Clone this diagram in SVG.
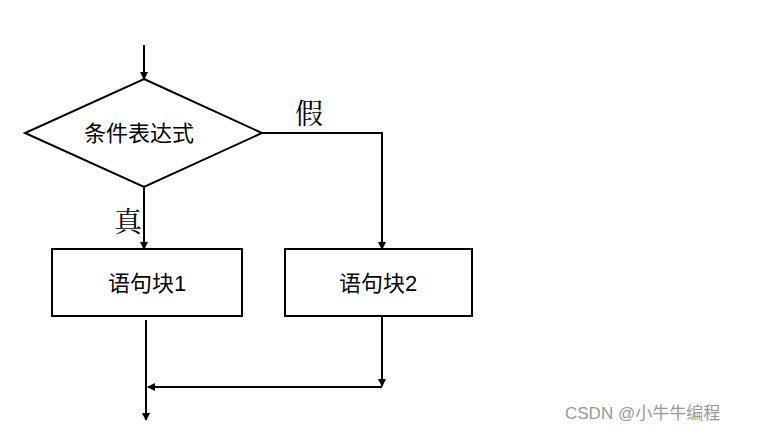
<svg xmlns="http://www.w3.org/2000/svg" width="758" height="434" viewBox="0 0 758 434">
<style>
.s{fill:#fff;stroke:#000;stroke-width:2}
.l{fill:none;stroke:#000;stroke-width:2}
.t{font-family:"Liberation Sans","Noto Sans CJK SC",sans-serif;font-size:22px;fill:#000}
.b{font-family:"Noto Serif CJK SC","Noto Sans CJK SC",serif;font-size:28px;fill:#000}
</style>
<defs><marker id="a" markerWidth="8" markerHeight="8" refX="7" refY="4" orient="auto" markerUnits="userSpaceOnUse"><path d="M0,0L8,4L0,8z" fill="#000"/></marker></defs>
<rect width="758" height="434" fill="#fff"/>
<g id="connectors">
<path class="l" d="M144,45V79" marker-end="url(#a)"/>
<path class="l" d="M144,187V249" marker-end="url(#a)"/>
<path class="l" d="M262,133H382V249" marker-end="url(#a)"/>
<path class="l" d="M382,316V386" marker-end="url(#a)"/>
<path class="l" d="M382,387H148" marker-end="url(#a)"/>
<path class="l" d="M146,320V420" marker-end="url(#a)"/>
</g>
<g id="cond"><polygon class="s" points="144,79 262,133 144,187 25,133"/><text class="t" x="139" y="141" text-anchor="middle">条件表达式</text></g>
<g id="block1"><rect class="s" x="52" y="249" width="190" height="67"/><text class="t" x="147" y="291" text-anchor="middle">语句块1</text></g>
<g id="block2"><rect class="s" x="285" y="249" width="187" height="67"/><text class="t" x="378" y="291" text-anchor="middle">语句块2</text></g>
<text class="b" x="295" y="124">假</text>
<text class="b" x="114" y="232">真</text>
<text x="565" y="419" font-family="Liberation Sans,Noto Sans CJK SC,sans-serif" font-size="17" fill="#999">CSDN @小牛牛编程</text>
</svg>
